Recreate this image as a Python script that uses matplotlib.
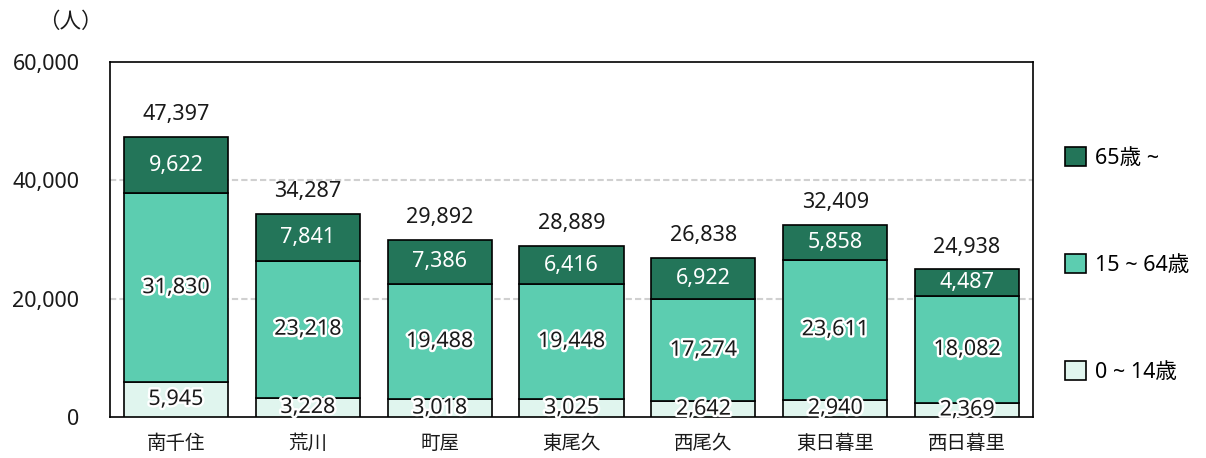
import matplotlib.pyplot as plt
import matplotlib.patheffects as pe
import numpy as np

plt.rcParams['font.family'] = ['Noto Sans', 'Noto Sans CJK JP', 'DejaVu Sans']

areas = ['南千住', '荒川', '町屋', '東尾久', '西尾久', '東日暮里', '西日暮里']
young = [5945, 3228, 3018, 3025, 2642, 2940, 2369]
working = [31830, 23218, 19488, 19448, 17274, 23611, 18082]
elderly = [9622, 7841, 7386, 6416, 6922, 5858, 4487]
totals = [47397, 34287, 29892, 28889, 26838, 32409, 24938]

c_dark = '#237559'
c_mid = '#5ccdb0'
c_light = '#e0f5ee'

fig = plt.figure(figsize=(12.06, 4.58), dpi=100)
ax = fig.add_axes([110/1206, 1 - 417/458, 923/1206, 355/458])

x = np.arange(len(areas))
w = 0.79
y = np.array(young)
m = np.array(working)
e = np.array(elderly)

b1 = ax.bar(x, y, w, color=c_light, edgecolor='black', lw=1.2, label='0 ~ 14歳', zorder=3)
b2 = ax.bar(x, m, w, bottom=y, color=c_mid, edgecolor='black', lw=1.2, label='15 ~ 64歳', zorder=3)
b3 = ax.bar(x, e, w, bottom=y + m, color=c_dark, edgecolor='black', lw=1.2, label='65歳 ~', zorder=3)

glow = [pe.withStroke(linewidth=3.5, foreground='white')]
fs = 15.5
for i in range(len(areas)):
    ax.text(x[i], y[i] / 2, f'{young[i]:,}', ha='center', va='center',
            fontsize=fs, color='#1a1a1a', path_effects=glow, zorder=5)
    ax.text(x[i], y[i] + m[i] / 2, f'{working[i]:,}', ha='center', va='center',
            fontsize=fs, color='#1a1a1a', path_effects=glow, zorder=5)
    ax.text(x[i], y[i] + m[i] + e[i] / 2, f'{elderly[i]:,}', ha='center', va='center',
            fontsize=fs, color='white', zorder=5)
    ax.text(x[i], totals[i] + 2000, f'{totals[i]:,}', ha='center', va='bottom',
            fontsize=fs, color='#1a1a1a', zorder=5)

ax.set_xlim(-0.5, len(areas) - 0.5)
ax.set_ylim(0, 60000)
ax.set_yticks([0, 20000, 40000, 60000])
ax.set_yticklabels(['0', '20,000', '40,000', '60,000'], fontsize=fs)
ax.set_xticks(x)
ax.set_xticklabels(areas, fontsize=14)
ax.tick_params(length=0, colors='#1a1a1a')
ax.tick_params(axis='y', pad=22)
ax.tick_params(axis='x', pad=12)
for s in ax.spines.values():
    s.set_color('black')
    s.set_linewidth(1.2)
for g in [20000, 40000]:
    ax.axhline(g, color='#d0d0d0', lw=1.5, ls=(0, (3, 1.5)), zorder=1)

fig.text(38/1206, 1 - 22/458, '（人）', fontsize=fs, ha='left', va='center', color='#1a1a1a')

leg = ax.legend(handles=[b3, b2, b1], loc='upper left', bbox_to_anchor=(1.025, 0.785),
                frameon=False, fontsize=fs, handlelength=1.0, handleheight=1.0,
                handletextpad=0.4, labelspacing=3.95, borderaxespad=0)

fig.savefig('out.png', dpi=100)
